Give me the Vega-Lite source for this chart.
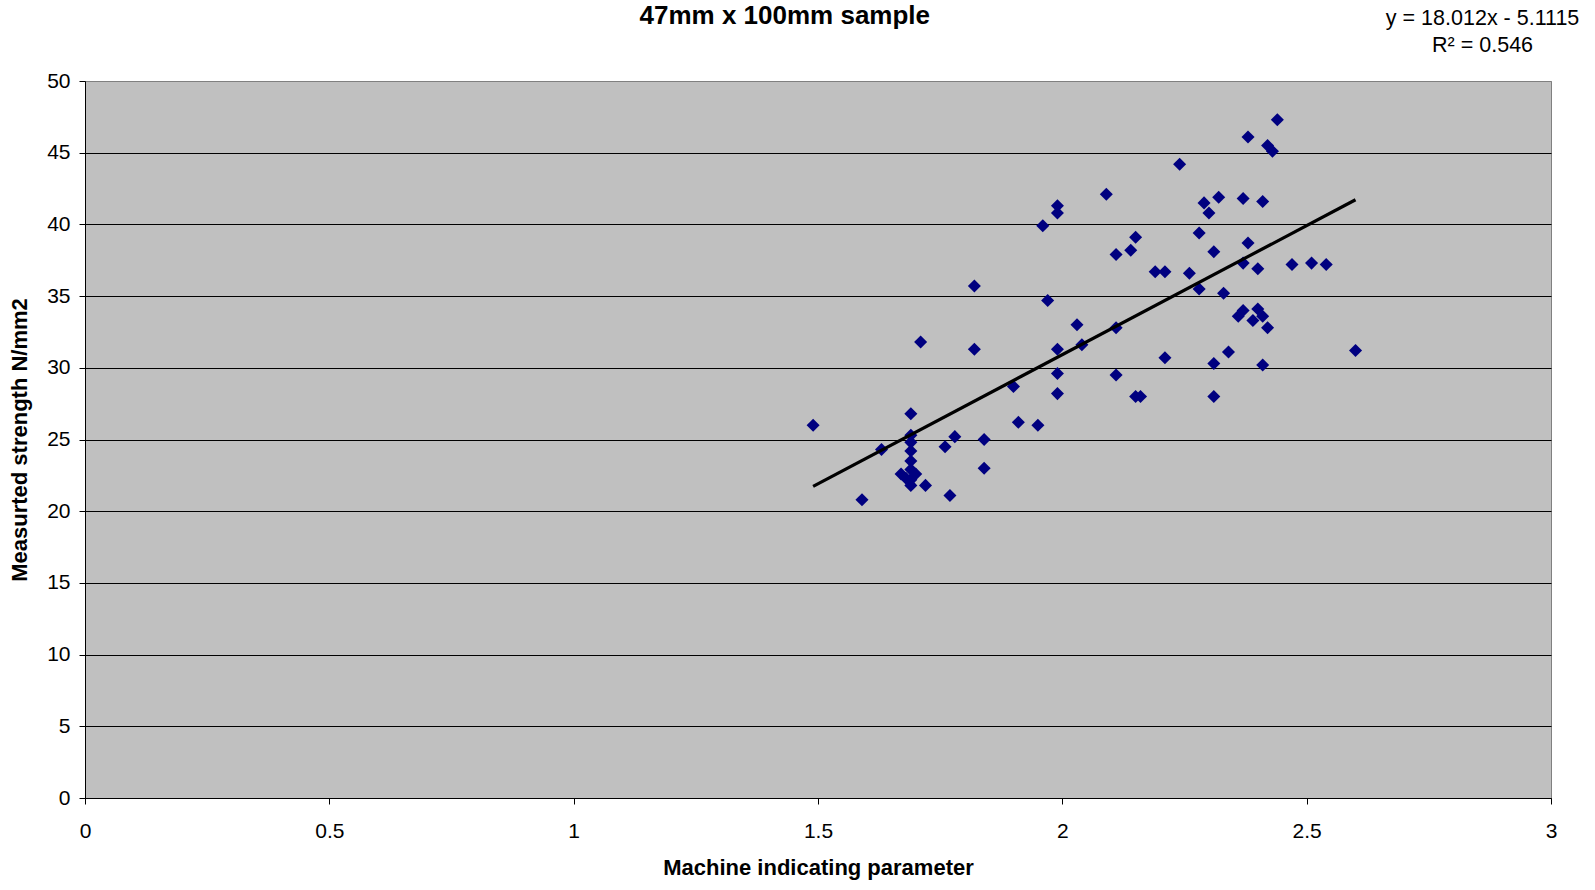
{
  "$schema": "https://vega.github.io/schema/vega-lite/v6.json",
  "autosize": "none",
  "width": 1466,
  "height": 717,
  "padding": {"left": 85, "top": 81, "right": 44, "bottom": 92},
  "background": "white",
  "config": {
    "font": "Liberation Sans",
    "view": {"fill": "#C0C0C0", "stroke": "#808080", "strokeWidth": 1},
    "axis": {
      "labelFont": "Liberation Sans",
      "labelFontSize": 21,
      "labelColor": "black",
      "labelFlush": false,
      "labelOverlap": false,
      "titleFont": "Liberation Sans",
      "titleFontSize": 22,
      "titleFontWeight": "bold",
      "titleColor": "black",
      "domainColor": "black",
      "tickColor": "black",
      "tickSize": 6
    }
  },
  "datasets": {
    "points": [
      {"mip": 1.49, "strength": 26.0},
      {"mip": 1.59, "strength": 20.8},
      {"mip": 1.63, "strength": 24.3},
      {"mip": 1.69, "strength": 26.8},
      {"mip": 1.69, "strength": 25.3},
      {"mip": 1.69, "strength": 24.8},
      {"mip": 1.69, "strength": 24.2},
      {"mip": 1.69, "strength": 23.5},
      {"mip": 1.69, "strength": 22.9},
      {"mip": 1.67, "strength": 22.6},
      {"mip": 1.68, "strength": 22.3},
      {"mip": 1.69, "strength": 22.2},
      {"mip": 1.70, "strength": 22.6},
      {"mip": 1.69, "strength": 21.8},
      {"mip": 1.71, "strength": 31.8},
      {"mip": 1.72, "strength": 21.8},
      {"mip": 1.76, "strength": 24.5},
      {"mip": 1.77, "strength": 21.1},
      {"mip": 1.78, "strength": 25.2},
      {"mip": 1.82, "strength": 35.7},
      {"mip": 1.82, "strength": 31.3},
      {"mip": 1.84, "strength": 25.0},
      {"mip": 1.84, "strength": 23.0},
      {"mip": 1.90, "strength": 28.7},
      {"mip": 1.91, "strength": 26.2},
      {"mip": 1.95, "strength": 26.0},
      {"mip": 1.96, "strength": 39.9},
      {"mip": 1.97, "strength": 34.7},
      {"mip": 1.99, "strength": 41.3},
      {"mip": 1.99, "strength": 40.8},
      {"mip": 1.99, "strength": 31.3},
      {"mip": 1.99, "strength": 29.6},
      {"mip": 1.99, "strength": 28.2},
      {"mip": 2.03, "strength": 33.0},
      {"mip": 2.04, "strength": 31.6},
      {"mip": 2.09, "strength": 42.1},
      {"mip": 2.11, "strength": 37.9},
      {"mip": 2.11, "strength": 32.8},
      {"mip": 2.11, "strength": 29.5},
      {"mip": 2.14, "strength": 38.2},
      {"mip": 2.15, "strength": 39.1},
      {"mip": 2.15, "strength": 28.0},
      {"mip": 2.16, "strength": 28.0},
      {"mip": 2.19, "strength": 36.7},
      {"mip": 2.21, "strength": 36.7},
      {"mip": 2.21, "strength": 30.7},
      {"mip": 2.24, "strength": 44.2},
      {"mip": 2.26, "strength": 36.6},
      {"mip": 2.28, "strength": 39.4},
      {"mip": 2.28, "strength": 35.5},
      {"mip": 2.29, "strength": 41.5},
      {"mip": 2.30, "strength": 40.8},
      {"mip": 2.31, "strength": 38.1},
      {"mip": 2.31, "strength": 30.3},
      {"mip": 2.31, "strength": 28.0},
      {"mip": 2.32, "strength": 41.9},
      {"mip": 2.33, "strength": 35.2},
      {"mip": 2.34, "strength": 31.1},
      {"mip": 2.36, "strength": 33.6},
      {"mip": 2.37, "strength": 34.0},
      {"mip": 2.37, "strength": 41.8},
      {"mip": 2.37, "strength": 37.3},
      {"mip": 2.38, "strength": 46.1},
      {"mip": 2.38, "strength": 38.7},
      {"mip": 2.39, "strength": 33.3},
      {"mip": 2.40, "strength": 34.1},
      {"mip": 2.40, "strength": 36.9},
      {"mip": 2.41, "strength": 41.6},
      {"mip": 2.41, "strength": 33.6},
      {"mip": 2.41, "strength": 30.2},
      {"mip": 2.42, "strength": 45.5},
      {"mip": 2.42, "strength": 32.8},
      {"mip": 2.43, "strength": 45.1},
      {"mip": 2.44, "strength": 47.3},
      {"mip": 2.47, "strength": 37.2},
      {"mip": 2.51, "strength": 37.3},
      {"mip": 2.54, "strength": 37.2},
      {"mip": 2.60, "strength": 31.2}
    ],
    "trend": [
      {"mip": 1.49, "strength": 21.73},
      {"mip": 2.60, "strength": 41.72}
    ],
    "labels": [
      {"kind": "title", "text": "47mm x 100mm sample"},
      {"kind": "eq", "text": "y = 18.012x - 5.1115"},
      {"kind": "r2", "text": "R² = 0.546"}
    ]
  },
  "layer": [
    {
      "data": {"name": "points"},
      "mark": {"type": "point", "shape": "diamond", "filled": true, "size": 170, "color": "#000080", "opacity": 1},
      "encoding": {
        "x": {
          "field": "mip", "type": "quantitative",
          "scale": {"domain": [0, 3], "nice": false, "zero": true},
          "axis": {"title": "Machine indicating parameter", "values": [0, 0.5, 1, 1.5, 2, 2.5, 3], "grid": false, "labelPadding": 16, "titlePadding": 16, "format": "~g"}
        },
        "y": {
          "field": "strength", "type": "quantitative",
          "scale": {"domain": [0, 50], "nice": false},
          "axis": {
            "title": "Measurted strength N/mm2",
            "values": [0, 5, 10, 15, 20, 25, 30, 35, 40, 45, 50],
            "grid": true,
            "gridColor": {"condition": {"test": "datum.value == 50", "value": "#808080"}, "value": "black"},
            "gridOpacity": 1, "gridWidth": 1, "labelPadding": 9, "titlePadding": 15
          }
        }
      }
    },
    {
      "data": {"name": "trend"},
      "mark": {"type": "line", "color": "black", "strokeWidth": 3.2},
      "encoding": {
        "x": {"field": "mip", "type": "quantitative"},
        "y": {"field": "strength", "type": "quantitative"}
      }
    },
    {
      "data": {"name": "labels"},
      "transform": [{"filter": "datum.kind == 'title'"}],
      "mark": {"type": "text", "font": "Liberation Sans", "fontSize": 26, "fontWeight": "bold", "color": "black", "align": "center", "baseline": "alphabetic", "clip": false},
      "encoding": {
        "x": {"datum": 1.432},
        "y": {"datum": 54.0},
        "text": {"field": "text"}
      }
    },
    {
      "data": {"name": "labels"},
      "transform": [{"filter": "datum.kind == 'eq'"}],
      "mark": {"type": "text", "font": "Liberation Sans", "fontSize": 21.5, "color": "black", "align": "center", "baseline": "alphabetic", "clip": false},
      "encoding": {
        "x": {"datum": 2.86},
        "y": {"datum": 53.94},
        "text": {"field": "text"}
      }
    },
    {
      "data": {"name": "labels"},
      "transform": [{"filter": "datum.kind == 'r2'"}],
      "mark": {"type": "text", "font": "Liberation Sans", "fontSize": 21.5, "color": "black", "align": "center", "baseline": "alphabetic", "clip": false},
      "encoding": {
        "x": {"datum": 2.86},
        "y": {"datum": 51.99},
        "text": {"field": "text"}
      }
    }
  ]
}
